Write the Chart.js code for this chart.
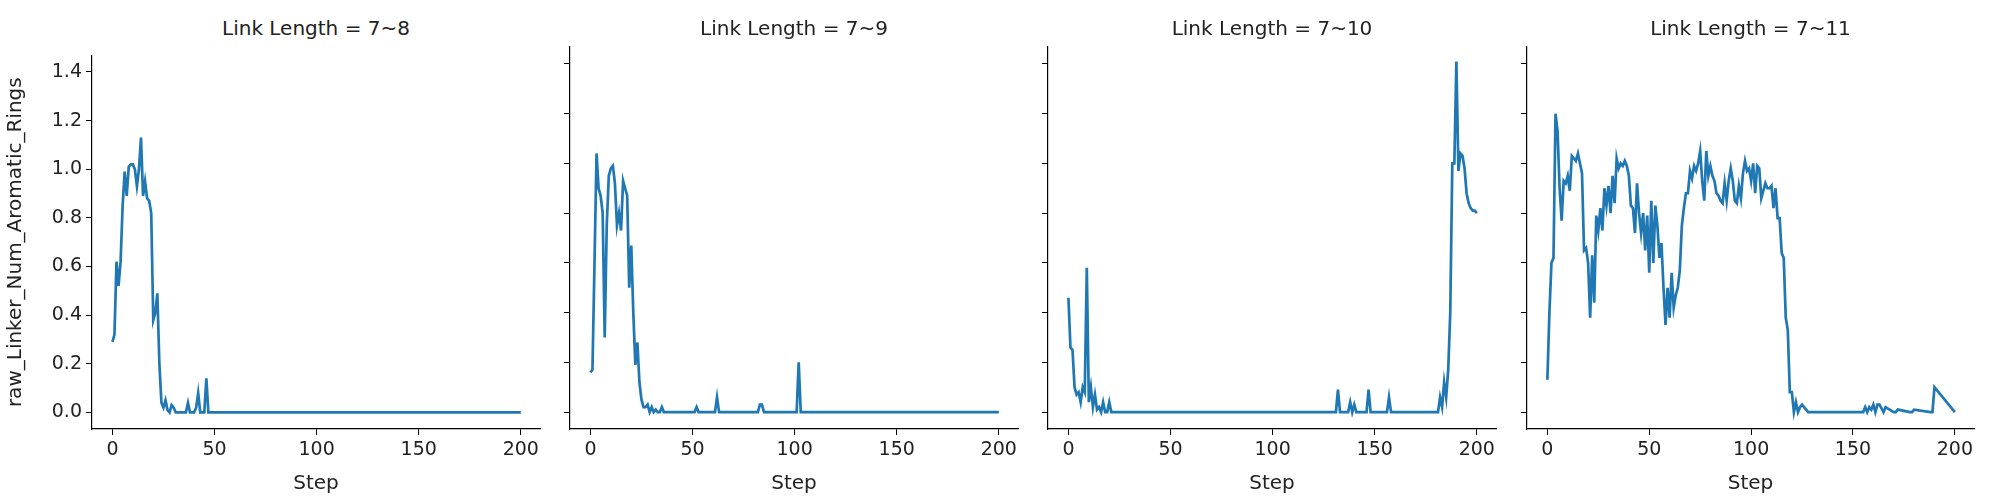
<!DOCTYPE html>
<html>
<head>
<meta charset="utf-8">
<script src="https://cdn.jsdelivr.net/npm/chart.js@4.4.0/dist/chart.umd.min.js"></script>
<style>
  body { margin: 0; background: #fff; width: 2000px; height: 500px; position: relative; overflow: hidden; font-family: "DejaVu Sans", sans-serif; }
  canvas { position: absolute; }
  .title { position: absolute; top: 16px; font-size: 20px; color: #222; text-align: center; }
</style>
</head>
<body>
<script>
// titles of the four panels
const titles = ["Link Length = 7~8", "Link Length = 7~9", "Link Length = 7~10", "Link Length = 7~11"];

// (step, value); flat zero stretches given by their endpoints
const steps1 = [0,1,2,3,4,5,6,7,8,9,10,11,12,13,14,15,16,17,18,19,20,21,22,23,24,25,26,27,28,29,30,31,36,37,38,40,41,42,43,45,46,47,200];
const vals1  = [0.29,0.32,0.62,0.52,0.62,0.85,0.99,0.89,1.01,1.02,1.02,1.0,0.93,1.0,1.13,0.89,0.95,0.88,0.87,0.82,0.38,0.41,0.49,0.2,0.04,0.02,0.05,0.01,0,0.03,0.02,0,0,0.04,0,0,0.02,0.08,0,0,0.14,0,0];

const steps2 = [0,1,2,3,4,5,6,7,8,9,10,11,12,13,14,15,16,17,18,19,20,21,22,23,24,25,26,27,28,29,30,31,32,33,34,35,36,51,52,53,61,62,63,82,83,84,85,101,102,103,200];
const vals2  = [0.16,0.17,0.6,1.04,0.9,0.87,0.8,0.3,0.75,0.95,0.98,0.99,0.92,0.75,0.8,0.73,0.93,0.9,0.87,0.5,0.67,0.4,0.19,0.28,0.12,0.05,0.02,0.02,0.03,0,0.02,0,0.01,0,0,0.02,0,0,0.02,0,0,0.06,0,0,0.03,0.03,0,0,0.2,0,0];

const steps3 = [0,1,2,3,4,5,6,7,8,9,10,11,12,13,14,15,16,17,18,19,20,21,131,132,133,137,138,139,140,141,146,147,148,156,157,158,181,182,183,184,185,186,187,188,189,190,191,192,193,194,195,196,197,198,199,200];
const vals3  = [0.46,0.26,0.25,0.1,0.07,0.08,0.04,0.1,0.08,0.58,0.04,0.1,0.02,0.07,0.01,0.02,0,0.04,0,0,0.04,0,0,0.09,0,0,0.04,0,0.03,0,0,0.09,0,0,0.06,0,0,0.06,0.02,0.12,0.06,0.17,0.4,1.0,1.0,1.41,0.97,1.04,1.03,0.98,0.88,0.84,0.82,0.81,0.81,0.8];

const steps4 = [0,1,2,3,4,5,6,7,8,9,10,11,12,13,14,15,16,17,18,19,20,21,22,23,24,25,26,27,28,29,30,31,32,33,34,35,36,37,38,39,40,41,42,43,44,45,46,47,48,49,50,51,52,53,54,55,56,57,58,59,60,61,62,63,64,65,66,67,68,69,70,71,72,73,74,75,76,77,78,79,80,81,82,83,84,85,86,87,88,89,90,91,92,93,94,95,96,97,98,99,100,101,102,103,104,105,106,107,108,109,110,111,112,113,114,115,116,117,118,119,120,121,122,123,124,125,126,127,128,155,156,157,158,159,160,161,162,163,165,166,170,171,172,178,179,180,188,189,190,200];
const vals4  = [0.13,0.4,0.6,0.62,1.2,1.13,0.9,0.77,0.93,0.92,0.95,0.89,1.03,1.02,1.01,1.04,1.0,0.96,0.65,0.66,0.6,0.38,0.63,0.44,0.79,0.73,0.82,0.73,0.9,0.83,0.91,0.8,0.95,0.84,1.02,0.98,1.0,0.99,1.01,0.99,0.95,0.83,0.82,0.72,0.92,0.8,0.72,0.8,0.65,0.79,0.56,0.85,0.6,0.83,0.75,0.62,0.68,0.5,0.35,0.5,0.38,0.56,0.42,0.47,0.5,0.57,0.75,0.82,0.88,0.88,0.97,0.94,0.99,0.97,1.0,1.05,0.93,0.85,1.05,0.95,0.99,0.95,0.93,0.88,0.87,0.85,0.84,0.92,0.85,0.93,0.98,0.93,0.85,0.84,0.91,0.86,0.96,1.01,0.97,0.98,0.93,1.0,0.88,0.99,0.98,0.86,0.89,0.92,0.9,0.9,0.91,0.82,0.9,0.78,0.78,0.64,0.62,0.38,0.33,0.08,0.08,0,0.04,0,0.02,0.03,0.02,0.01,0,0,0.02,0,0.02,0.01,0.03,0,0.03,0.03,0,0.02,0,0,0.01,0,0,0.01,0,0,0.1,0,0];

const xTicks = [0, 50, 100, 150, 200];
const yTicks = [0, 0.2, 0.4, 0.6, 0.8, 1.0, 1.2, 1.4];

const series = [[steps1, vals1], [steps2, vals2], [steps3, vals3], [steps4, vals4]];
const spineLeft = [92, 570, 1048, 1527];
const spineRight = [540, 1018, 1496, 1974];
const canvasTop = 40, padTop = 7, plotBottom = 422;

series.forEach(([xs, ys], i) => {
  const yAxisW = i === 0 ? 92 : 30;
  const left = spineLeft[i] - yAxisW;
  const width = spineRight[i] - left + 10;
  const height = 500 - canvasTop;

  const c = document.createElement("canvas");
  c.width = width;
  c.height = height;
  c.style.left = left + "px";
  c.style.top = canvasTop + "px";
  document.body.appendChild(c);

  const t = document.createElement("div");
  t.className = "title";
  t.style.left = spineLeft[i] + "px";
  t.style.width = (spineRight[i] - spineLeft[i]) + "px";
  t.textContent = titles[i];
  document.body.appendChild(t);

  new Chart(c, {
    type: "line",
    data: {
      datasets: [{
        data: xs.map((x, k) => ({ x, y: ys[k] })),
        borderColor: "#1f77b4",
        borderWidth: 2.7,
        pointRadius: 0,
        tension: 0
      }]
    },
    options: {
      responsive: false,
      animation: false,
      devicePixelRatio: 1,
      layout: { padding: { top: padTop, right: 10, left: 0, bottom: 0 } },
      plugins: { legend: { display: false }, tooltip: { enabled: false } },
      scales: {
        x: {
          type: "linear",
          min: -10, max: 209.4,
          afterBuildTicks: a => { a.ticks = xTicks.map(v => ({ value: v })); },
          afterFit: a => { a.height = height - padTop - (plotBottom - canvasTop); },
          grid: { drawOnChartArea: false, drawTicks: true, tickLength: 6, color: "#000" },
          border: { display: true, color: "#000", width: 1.2 },
          ticks: { color: "#222", font: { size: 19, family: "DejaVu Sans" }, padding: 4, maxRotation: 0 },
          title: { display: true, text: "Step", color: "#222", font: { size: 20, family: "DejaVu Sans" }, padding: { top: 0 } }
        },
        y: {
          min: -0.068, max: 1.468,
          afterBuildTicks: a => { a.ticks = yTicks.map(v => ({ value: v })); },
          afterFit: a => { a.width = yAxisW; },
          grid: { drawOnChartArea: false, drawTicks: true, tickLength: 6, color: "#000" },
          border: { display: true, color: "#000", width: 1.2 },
          ticks: {
            display: i === 0,
            color: "#222", font: { size: 19, family: "DejaVu Sans" }, padding: 4,
            callback: v => v.toFixed(1)
          },
          title: {
            display: i === 0, text: "raw_Linker_Num_Aromatic_Rings",
            color: "#222", font: { size: 20, family: "DejaVu Sans" }, padding: { bottom: 2 }
          }
        }
      }
    }
  });
});
</script>
</body>
</html>
